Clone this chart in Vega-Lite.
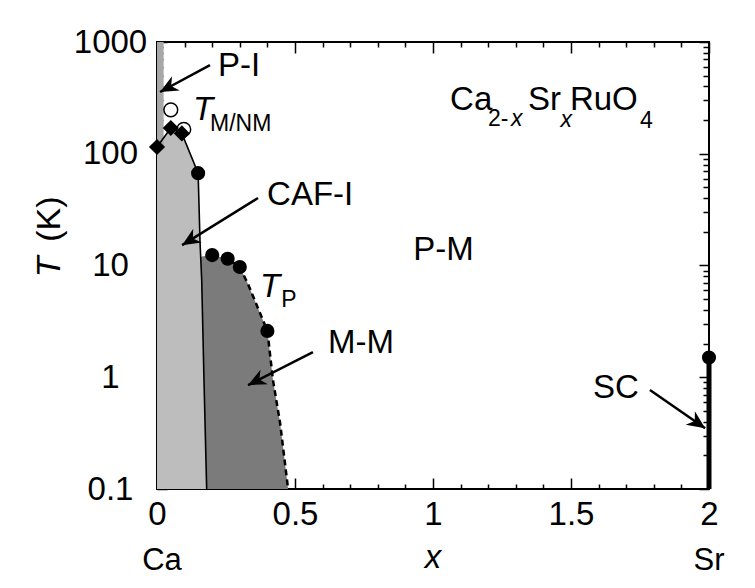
{
  "$schema": "https://vega.github.io/schema/vega-lite/v6.json",
  "width": 552,
  "height": 447,
  "autosize": {"type": "none"},
  "padding": {"left": 157, "top": 42, "right": 46, "bottom": 99},
  "background": "white",
  "config": {
    "view": {"stroke": "black", "strokeWidth": 2},
    "font": "Liberation Sans",
    "text": {"font": "Liberation Sans", "color": "black"},
    "axis": {"title": null, "zindex": 1, "tickColor": "black", "tickWidth": 1.5, "domain": false, "grid": false}
  },
  "datasets": {
    "light": [
      {"x": 0, "T": 115}, {"x": 0.05, "T": 170}, {"x": 0.09, "T": 152}, {"x": 0.149, "T": 67},
      {"x": 0.156, "T": 16}, {"x": 0.162, "T": 7.4}, {"x": 0.17, "T": 1}, {"x": 0.18, "T": 0.1}
    ],
    "dark": [
      {"x": 0.155, "T": 12}, {"x": 0.2, "T": 12.4}, {"x": 0.256, "T": 11.5}, {"x": 0.3, "T": 9.7},
      {"x": 0.33, "T": 6.8}, {"x": 0.4, "T": 2.6}, {"x": 0.42, "T": 0.95}, {"x": 0.446, "T": 0.39},
      {"x": 0.475, "T": 0.1}
    ],
    "strip": [{"x": 0, "x2": 0.024, "T": 115, "T2": 1000}],
    "sc": [{"x": 2, "T": 1.5}],
    "circles": [
      {"x": 0.149, "T": 67}, {"x": 0.2, "T": 12.4}, {"x": 0.256, "T": 11.5}, {"x": 0.3, "T": 9.7},
      {"x": 0.4, "T": 2.6}, {"x": 2, "T": 1.5}
    ],
    "diamonds": [{"x": 0, "T": 115}, {"x": 0.05, "T": 170}, {"x": 0.09, "T": 152}],
    "open": [{"x": 0.05, "T": 247}, {"x": 0.097, "T": 165}],
    "arrows": [
      {"label": "P-I", "x": 0.192, "T": 622, "x2": 0.011, "T2": 357},
      {"label": "CAF-I", "x": 0.366, "T": 40.2, "x2": 0.091, "T2": 15.2},
      {"label": "M-M", "x": 0.565, "T": 1.68, "x2": 0.33, "T2": 0.85},
      {"label": "SC", "x": 1.786, "T": 0.77, "x2": 1.986, "T2": 0.35}
    ],
    "labels": [
      {"text": "P-I", "x": 0.221, "T": 610},
      {"text": "CAF-I", "x": 0.399, "T": 42.7},
      {"text": "P-M", "x": 0.928, "T": 13.8},
      {"text": "M-M", "x": 0.62, "T": 2.03},
      {"text": "SC", "x": 1.58, "T": 0.8},
      {"text": "Ca", "x": 1.062, "T": 303},
      {"text": "Sr", "x": 1.344, "T": 303},
      {"text": "RuO", "x": 1.496, "T": 303}
    ],
    "italics": [
      {"text": "T", "x": 0.13, "T": 247},
      {"text": "T", "x": 0.373, "T": 6.4}
    ],
    "subs": [
      {"text": "M/NM", "x": 0.192, "T": 184},
      {"text": "P", "x": 0.45, "T": 4.9},
      {"text": "2-", "x": 1.199, "T": 205},
      {"text": "4", "x": 1.75, "T": 196}
    ],
    "subitalics": [
      {"text": "x", "x": 1.283, "T": 205},
      {"text": "x", "x": 1.462, "T": 200}
    ],
    "bottom": [
      {"text": "Ca", "x": 0.018, "T": 0.0227},
      {"text": "Sr", "x": 2.0, "T": 0.0227}
    ],
    "bottomitalic": [{"text": "x", "x": 1.0, "T": 0.0241}],
    "ytitleT": [{"text": "T", "x": -0.388, "T": 9.7}],
    "ytitleK": [{"text": "(K)", "x": -0.388, "T": 26}]
  },
  "encoding": {
    "x": {"field": "x", "type": "quantitative", "scale": {"domain": [0, 2], "nice": false, "zero": false}, "axis": null},
    "y": {"field": "T", "type": "quantitative", "scale": {"type": "log", "domain": [0.1, 1000], "nice": false}, "axis": null}
  },
  "layer": [
    {
      "data": {"name": "dark"},
      "mark": {"type": "area", "color": "#7b7b7b", "opacity": 1},
      "encoding": {"y2": {"datum": 0.1}}
    },
    {
      "data": {"name": "light"},
      "mark": {"type": "area", "color": "#bdbdbd", "opacity": 1},
      "encoding": {"y2": {"datum": 0.1}}
    },
    {
      "data": {"name": "strip"},
      "mark": {"type": "rect", "color": "#a8a8a8", "opacity": 1},
      "encoding": {"x2": {"field": "x2"}, "y2": {"field": "T2"}}
    },
    {
      "data": {"name": "light"},
      "mark": {"type": "line", "color": "black", "strokeWidth": 1.6},
      "encoding": {
        "x": {
          "field": "x", "type": "quantitative", "scale": {"domain": [0, 2], "nice": false, "zero": false},
          "axis": {"orient": "top", "labels": false, "tickSize": 5, "offset": -5,
            "values": [0.1, 0.2, 0.3, 0.4, 0.6, 0.7, 0.8, 0.9, 1.1, 1.2, 1.3, 1.4, 1.6, 1.7, 1.8, 1.9]}
        },
        "y": {
          "field": "T", "type": "quantitative", "scale": {"type": "log", "domain": [0.1, 1000], "nice": false},
          "axis": {"orient": "right", "labels": false, "tickSize": 6, "offset": -6,
            "values": [0.2, 0.3, 0.4, 0.5, 0.6, 0.7, 0.8, 0.9, 2, 3, 4, 5, 6, 7, 8, 9, 20, 30, 40, 50, 60, 70, 80, 90, 200, 300, 400, 500, 600, 700, 800, 900]}
        }
      }
    },
    {
      "data": {"name": "dark"},
      "transform": [{"filter": "datum.x >= 0.2"}],
      "mark": {"type": "line", "color": "black", "strokeWidth": 2.5, "strokeDash": [6, 4]},
      "encoding": {}
    },
    {
      "data": {"name": "sc"},
      "mark": {"type": "rule", "color": "black", "strokeWidth": 5},
      "encoding": {"y": {"datum": 0.1, "type": "quantitative"}, "y2": {"field": "T"}}
    },
    {
      "data": {"name": "open"},
      "mark": {"type": "point", "shape": "circle", "filled": true, "fill": "white", "stroke": "black", "strokeWidth": 1.5, "size": 190, "opacity": 1},
      "encoding": {
        "x": {
          "field": "x", "type": "quantitative", "scale": {"domain": [0, 2], "nice": false, "zero": false},
          "axis": {"orient": "bottom", "labels": false, "tickSize": 5, "offset": -5,
            "values": [0.1, 0.2, 0.3, 0.4, 0.6, 0.7, 0.8, 0.9, 1.1, 1.2, 1.3, 1.4, 1.6, 1.7, 1.8, 1.9]}
        },
        "y": {
          "field": "T", "type": "quantitative", "scale": {"type": "log", "domain": [0.1, 1000], "nice": false},
          "axis": {"orient": "left", "labels": false, "tickSize": 6, "offset": -6,
            "values": [0.2, 0.3, 0.4, 0.5, 0.6, 0.7, 0.8, 0.9, 2, 3, 4, 5, 6, 7, 8, 9, 20, 30, 40, 50, 60, 70, 80, 90, 200, 300, 400, 500, 600, 700, 800, 900]}
        }
      }
    },
    {
      "data": {"name": "circles"},
      "mark": {"type": "point", "shape": "circle", "filled": true, "color": "black", "size": 200, "opacity": 1},
      "encoding": {
        "x": {
          "field": "x", "type": "quantitative", "scale": {"domain": [0, 2], "nice": false, "zero": false},
          "axis": {
            "orient": "bottom", "values": [0, 0.5, 1, 1.5, 2], "format": "~g", "tickSize": 11, "offset": -11,
            "labelFont": "Liberation Sans", "labelFontSize": 33, "labelColor": "black",
            "labelAlign": "center", "labelBaseline": "middle", "labelPadding": 25,
            "labelFlush": false, "labelOverlap": false, "labelBound": false
          }
        },
        "y": {
          "field": "T", "type": "quantitative", "scale": {"type": "log", "domain": [0.1, 1000], "nice": false},
          "axis": {
            "orient": "left", "values": [0.1, 1, 10, 100, 1000], "format": "~g", "tickSize": 10, "offset": -10,
            "labelFont": "Liberation Sans", "labelFontSize": 33, "labelColor": "black",
            "labelAlign": "center", "labelBaseline": "middle", "labelPadding": 47,
            "labelFlush": false, "labelOverlap": false, "labelBound": false
          }
        }
      }
    },
    {
      "data": {"name": "diamonds"},
      "mark": {"type": "point", "shape": "diamond", "filled": true, "color": "black", "size": 260, "opacity": 1},
      "encoding": {
        "x": {
          "field": "x", "type": "quantitative", "scale": {"domain": [0, 2], "nice": false, "zero": false},
          "axis": {"orient": "top", "labels": false, "tickSize": 11, "offset": -11, "values": [0, 0.5, 1, 1.5, 2]}
        },
        "y": {
          "field": "T", "type": "quantitative", "scale": {"type": "log", "domain": [0.1, 1000], "nice": false},
          "axis": {"orient": "right", "labels": false, "tickSize": 10, "offset": -10, "values": [0.1, 1, 10, 100, 1000]}
        }
      }
    },
    {
      "data": {"name": "arrows"},
      "mark": {"type": "rule", "color": "black", "strokeWidth": 2.5},
      "encoding": {"x2": {"field": "x2"}, "y2": {"field": "T2"}}
    },
    {
      "data": {"name": "arrows"},
      "transform": [{"filter": "datum.label == 'P-I'"}],
      "mark": {"type": "point", "shape": "M0,0L-1,-0.45L-0.7,0L-1,0.45Z", "angle": 151.6, "filled": true, "color": "black", "size": 1300, "opacity": 1},
      "encoding": {"x": {"field": "x2", "type": "quantitative", "axis": null}, "y": {"field": "T2", "type": "quantitative", "axis": null}}
    },
    {
      "data": {"name": "arrows"},
      "transform": [{"filter": "datum.label == 'CAF-I'"}],
      "mark": {"type": "point", "shape": "M0,0L-1,-0.45L-0.7,0L-1,0.45Z", "angle": 148.3, "filled": true, "color": "black", "size": 1300, "opacity": 1},
      "encoding": {"x": {"field": "x2", "type": "quantitative", "axis": null}, "y": {"field": "T2", "type": "quantitative", "axis": null}}
    },
    {
      "data": {"name": "arrows"},
      "transform": [{"filter": "datum.label == 'M-M'"}],
      "mark": {"type": "point", "shape": "M0,0L-1,-0.45L-0.7,0L-1,0.45Z", "angle": 153.1, "filled": true, "color": "black", "size": 1300, "opacity": 1},
      "encoding": {"x": {"field": "x2", "type": "quantitative", "axis": null}, "y": {"field": "T2", "type": "quantitative", "axis": null}}
    },
    {
      "data": {"name": "arrows"},
      "transform": [{"filter": "datum.label == 'SC'"}],
      "mark": {"type": "point", "shape": "M0,0L-1,-0.45L-0.7,0L-1,0.45Z", "angle": 34.6, "filled": true, "color": "black", "size": 1300, "opacity": 1},
      "encoding": {"x": {"field": "x2", "type": "quantitative", "axis": null}, "y": {"field": "T2", "type": "quantitative", "axis": null}}
    },
    {
      "data": {"name": "labels"},
      "mark": {"type": "text", "fontSize": 33, "align": "left", "baseline": "middle"},
      "encoding": {"text": {"field": "text"}}
    },
    {
      "data": {"name": "italics"},
      "mark": {"type": "text", "fontSize": 33, "fontStyle": "italic", "align": "left", "baseline": "middle"},
      "encoding": {"text": {"field": "text"}}
    },
    {
      "data": {"name": "subs"},
      "mark": {"type": "text", "fontSize": 23, "align": "left", "baseline": "middle"},
      "encoding": {"text": {"field": "text"}}
    },
    {
      "data": {"name": "subitalics"},
      "mark": {"type": "text", "fontSize": 23, "fontStyle": "italic", "align": "left", "baseline": "middle"},
      "encoding": {"text": {"field": "text"}}
    },
    {
      "data": {"name": "bottom"},
      "mark": {"type": "text", "fontSize": 31, "align": "center", "baseline": "middle"},
      "encoding": {"text": {"field": "text"}}
    },
    {
      "data": {"name": "bottomitalic"},
      "mark": {"type": "text", "fontSize": 33, "fontStyle": "italic", "align": "center", "baseline": "middle"},
      "encoding": {"text": {"field": "text"}}
    },
    {
      "data": {"name": "ytitleT"},
      "mark": {"type": "text", "fontSize": 34, "fontStyle": "italic", "align": "center", "baseline": "middle", "angle": 270},
      "encoding": {"text": {"field": "text"}}
    },
    {
      "data": {"name": "ytitleK"},
      "mark": {"type": "text", "fontSize": 34, "align": "center", "baseline": "middle", "angle": 270},
      "encoding": {"text": {"field": "text"}}
    },
    {
      "data": {"values": [{}]},
      "mark": {"type": "rule", "color": "#808080", "strokeWidth": 2.5},
      "encoding": {
        "x": {"datum": -0.529, "type": "quantitative"},
        "y": {"datum": 2056, "type": "quantitative"},
        "y2": {"datum": 0.013}
      }
    },
    {
      "data": {"values": [{}]},
      "mark": {"type": "rule", "color": "#808080", "strokeWidth": 2.5},
      "encoding": {
        "x": {"datum": -0.529, "type": "quantitative"},
        "x2": {"datum": 2.17},
        "y": {"datum": 2056, "type": "quantitative"}
      }
    }
  ],
  "resolve": {"axis": {"x": "independent", "y": "independent"}}
}
